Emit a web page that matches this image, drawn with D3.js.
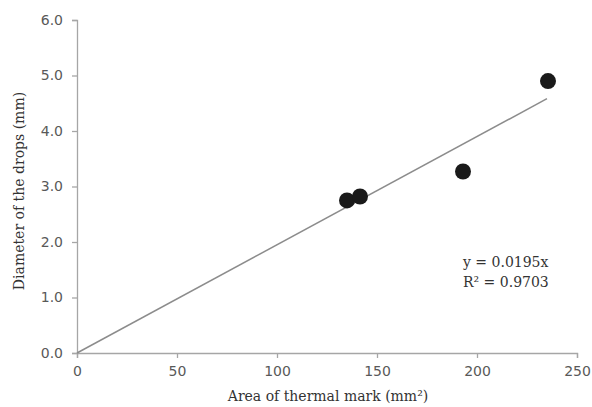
<!DOCTYPE html>
<html><head><meta charset="utf-8">
<script src="https://cdn.jsdelivr.net/npm/d3@7"></script>
<style>body{margin:0;background:#fff}svg{display:block}</style>
</head><body>
<svg id="c" width="592" height="407"></svg>
<script>
const areas = [135, 141.5, 193, 235.5];
const diameters = [2.75, 2.82, 3.27, 4.9];
const xTicks = [0, 50, 100, 150, 200, 250];
const yTicks = [0, 1, 2, 3, 4, 5, 6];
const slope = 0.0195;
const trendX = [0, 235];
const eqLines = ["y = 0.0195x", "R² = 0.9703"];

const svg = d3.select("#c");
const x = d3.scaleLinear().domain([0, 250]).range([77, 577]);
const y = d3.scaleLinear().domain([0, 6]).range([353, 20]);
const axisColor = "#a6a6a6";
const tickFont = "'DejaVu Sans', sans-serif";
const labFont = "'DejaVu Serif', serif";

const gx = svg.append("g").attr("transform", `translate(0,${y(0)})`)
  .call(d3.axisBottom(x).tickValues(xTicks).tickSize(5).tickPadding(8).tickFormat(d3.format("d")));
const gy = svg.append("g").attr("transform", `translate(${x(0)},0)`)
  .call(d3.axisLeft(y).tickValues(yTicks).tickSize(5).tickPadding(9).tickFormat(d3.format(".1f")));
[gx, gy].forEach(g => {
  g.select(".domain").attr("stroke", axisColor).attr("stroke-width", 1.3);
  g.selectAll(".tick line").attr("stroke", axisColor).attr("stroke-width", 1.3);
  g.selectAll(".tick text").attr("fill", "#595959").style("font-family", tickFont).style("font-size", "14px");
});

svg.append("line")
  .attr("x1", x(trendX[0])).attr("y1", y(slope * trendX[0]))
  .attr("x2", x(trendX[1])).attr("y2", y(slope * trendX[1]))
  .attr("stroke", "#8c8c8c").attr("stroke-width", 1.5);

svg.selectAll("circle.pt").data(areas).join("circle")
  .attr("class", "pt")
  .attr("cx", d => x(d)).attr("cy", (d, i) => y(diameters[i]))
  .attr("r", 8).attr("fill", "#1a1a1a");

svg.append("text").attr("x", 328).attr("y", 401).attr("text-anchor", "middle")
  .style("font-family", labFont).style("font-size", "14px").attr("fill", "#333")
  .text("Area of thermal mark (mm²)");
svg.append("text").attr("transform", `translate(24,191) rotate(-90)`).attr("text-anchor", "middle")
  .style("font-family", labFont).style("font-size", "14px").attr("fill", "#333")
  .text("Diameter of the drops (mm)");

svg.selectAll("text.eq").data(eqLines).join("text").attr("class", "eq")
  .attr("x", 463).attr("y", (d, i) => 267 + i * 20)
  .style("font-family", labFont).style("font-size", "14px").attr("fill", "#333")
  .text(d => d);
</script>
</body></html>
